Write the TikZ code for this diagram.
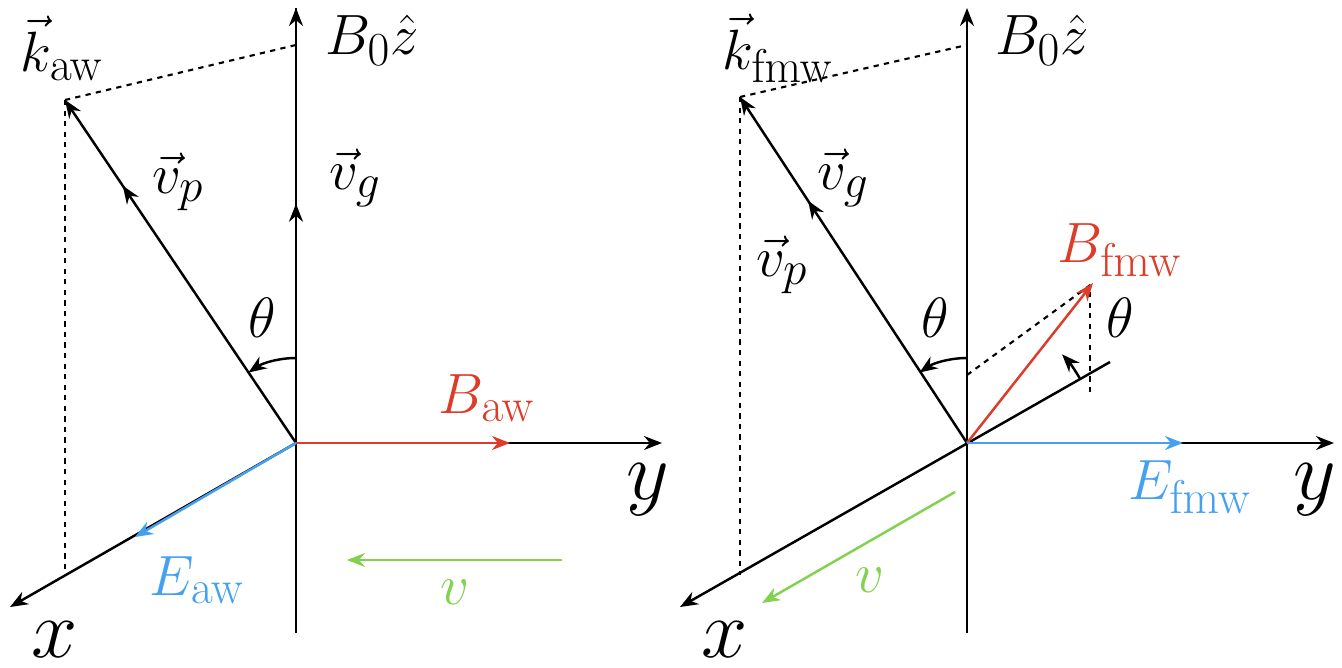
\documentclass[tikz,border=0pt]{standalone}
\usetikzlibrary{positioning, calc, arrows.meta, decorations.markings}
\begin{document}
\begin{tikzpicture}[x=0.02cm,y=-0.02cm, line width=1.4pt,
  tip/.style={-{Stealth[length=3.6mm,width=2.8mm]}},
  midtip/.style={postaction={decorate},decoration={markings,mark=at position #1 with {\arrow{Stealth[length=3.6mm,width=2.8mm]}}}},
  dots/.style={dashed,dash pattern=on 3pt off 3pt,line width=1.2pt},
  lbl/.style={font=\fontsize{30}{34}\selectfont,scale=1.3,inner sep=1pt},
  axl/.style={font=\fontsize{30}{34}\selectfont,scale=1.9,inner sep=1pt},
  redv/.style={tip,draw={rgb,255:red,220;green,60;blue,40}},
  bluev/.style={tip,draw={rgb,255:red,70;green,160;blue,240}},
  greenv/.style={tip,draw={rgb,255:red,130;green,210;blue,80}}]
\useasboundingbox (0,0) rectangle (1342,668);
\definecolor{cred}{RGB}{220,60,40}
\definecolor{cblue}{RGB}{70,160,240}
\definecolor{cgreen}{RGB}{130,210,80}
% left: Alfven wave
\coordinate (o1) at (296,443);
\coordinate (zb1) at (296,633);
\coordinate (zt1) at (296,8);
\coordinate (y1) at (662,443);
\coordinate (x1) at (10,607);
\coordinate (k1) at (65,100);
\coordinate (kz1) at (296,45);
\coordinate (kx1) at (65,572);
\draw[tip] (zb1) -- (zt1);
\draw[midtip=0.55] (o1) -- (zt1);
\draw[tip] (o1) -- (y1);
\draw[tip] (o1) -- (x1);
\draw[tip, midtip=0.75] (o1) -- (k1);
\draw[dots] (k1) -- (kz1);
\draw[dots] (k1) -- (kx1);
\draw[redv] (o1) -- (510,443);
\draw[bluev] (o1) -- (135,537);
\coordinate (v1s) at (562,560);
\coordinate (v1e) at (347,560);
\draw[greenv] (v1s) -- (v1e);
\draw[tip] (296,358) arc[start angle=270,end angle=236,radius=85];
\node (kaw) [lbl] at (62,48) {$\vec{k}_{\mathrm{aw}}$};
\node (bz1) [lbl] at (372,40) {$B_0\hat{z}$};
\node (vg1) [lbl] at (355,178) {$\vec{v}_g$};
\node (vp1) [lbl] at (178,182) {$\vec{v}_p$};
\node (th1) [lbl] at (262,318) {$\theta$};
\node (baw) [lbl,text=cred] at (487,398) {$B_{\mathrm{aw}}$};
\node (eaw) [lbl,text=cblue] at (197,580) {$E_{\mathrm{aw}}$};
\node (nu1) [lbl,text=cgreen] at (455,592) {$v$};
\node (ya1) [axl] at (648,490) {$y$};
\node (xa1) [axl] at (55,640) {$x$};
% right: fast magnetosonic wave
\coordinate (o2) at (967,443);
\coordinate (zb2) at (967,633);
\coordinate (zt2) at (967,8);
\coordinate (y2) at (1334,443);
\coordinate (x2) at (680,607);
\coordinate (xn2) at (1110,362);
\coordinate (k2) at (740,97);
\coordinate (kz2) at (967,45);
\coordinate (kx2) at (740,575);
\coordinate (b2) at (1093,283);
\coordinate (bx2) at (1090,392);
\draw[tip] (zb2) -- (zt2);
\draw[tip] (o2) -- (y2);
\draw[tip] (xn2) -- (x2);
\draw[tip, midtip=0.7] (o2) -- (k2);
\draw[dots] (k2) -- (kz2);
\draw[dots] (k2) -- (kx2);
\draw[dots] (967,375) -- (b2);
\draw[dots] (1090,292) -- (bx2);
\draw[redv] (o2) -- (b2);
\draw[bluev] (o2) -- (1183,443);
\draw[greenv] (955,492) -- (762,603);
\draw[tip] (967,358) arc[start angle=270,end angle=236,radius=85];
\draw[tip] ($(o2)+(-29.5:130)$) arc[start angle=-29.5,end angle=-43,radius=130];
\node (kfmw) [lbl] at (778,48) {$\vec{k}_{\mathrm{fmw}}$};
\node (bz2) [lbl] at (1042,40) {$B_0\hat{z}$};
\node (vg2) [lbl] at (843,178) {$\vec{v}_g$};
\node (vp2) [lbl] at (782,265) {$\vec{v}_p$};
\node (th2) [lbl] at (935,318) {$\theta$};
\node (th3) [lbl] at (1120,318) {$\theta$};
\node (bfmw) [lbl,text=cred] at (1120,250) {$B_{\mathrm{fmw}}$};
\node (efmw) [lbl,text=cblue] at (1190,487) {$E_{\mathrm{fmw}}$};
\node (nu2) [lbl,text=cgreen] at (870,580) {$v$};
\node (ya2) [axl] at (1315,490) {$y$};
\node (xa2) [axl] at (725,640) {$x$};
\end{tikzpicture}
\end{document}
